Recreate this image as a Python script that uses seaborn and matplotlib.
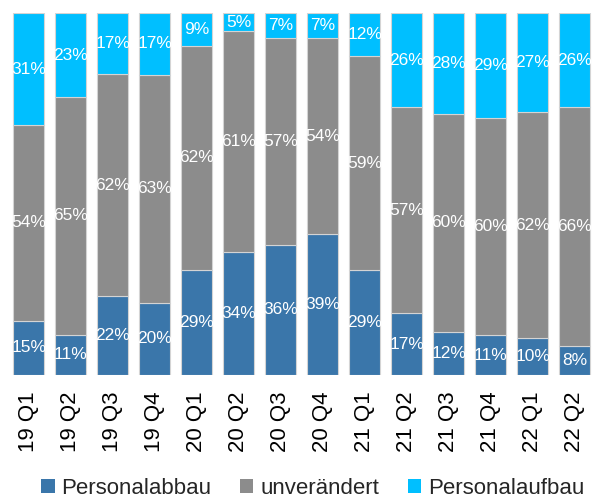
import matplotlib
matplotlib.use("Agg")
import matplotlib.pyplot as plt
import seaborn as sns
import pandas as pd
import numpy as np
from matplotlib.patches import Patch

quarters = ["19 Q1", "19 Q2", "19 Q3", "19 Q4", "20 Q1", "20 Q2", "20 Q3",
            "20 Q4", "21 Q1", "21 Q2", "21 Q3", "21 Q4", "22 Q1", "22 Q2"]
personalabbau = [15, 11, 22, 20, 29, 34, 36, 39, 29, 17, 12, 11, 10, 8]
unveraendert = [54, 65, 62, 63, 62, 61, 57, 54, 59, 57, 60, 60, 62, 66]
personalaufbau = [31, 23, 17, 17, 9, 5, 7, 7, 12, 26, 28, 29, 27, 26]

series_names = ["Personalabbau", "unverändert", "Personalaufbau"]
colors = ["#3A76AA", "#8C8C8C", "#00BFFF"]

sns.set_theme(style="white")
plt.rcParams["font.family"] = ["Liberation Sans", "DejaVu Sans"]

fig = plt.figure(figsize=(5.99, 5.0), dpi=100)
ax = fig.add_axes([0.013, 0.25, 0.9816, 0.724])

df = pd.DataFrame({"quarter": quarters,
                   "Personalabbau": personalabbau,
                   "unverändert": unveraendert,
                   "Personalaufbau": personalaufbau})
# 100% stacked: normalise each quarter to its total
totals = df[series_names].sum(axis=1).to_numpy(dtype=float)
for name in series_names:
    df[name + "_share"] = df[name] / totals * 100

bottom = np.zeros(len(quarters))
for name, col in zip(series_names, colors):
    vals = df[name + "_share"].to_numpy(dtype=float)
    sns.barplot(data=df, x="quarter", y=name + "_share", order=quarters,
                color=col, saturation=1, width=0.74, bottom=bottom, ax=ax,
                edgecolor="#D4D4D4", linewidth=0.8, errorbar=None)
    for i, v in enumerate(vals):
        ax.text(i, bottom[i] + v / 2, f"{int(df[name][i])}%", ha="center",
                va="center", color="white", fontsize=12.5,
                family=["Liberation Sans Narrow", "Liberation Sans", "DejaVu Sans"])
    bottom = bottom + vals

ax.set_ylim(0, 100)
ax.set_xlim(-0.5, len(quarters) - 0.5)
ax.set_xlabel("")
ax.set_ylabel("")
ax.set_yticks([])
for s in ax.spines.values():
    s.set_visible(False)
ax.tick_params(axis="x", length=0, pad=12, labelsize=16, labelcolor="black",
               rotation=90)

handles = [Patch(facecolor=c, edgecolor="none") for c in colors]
fig.legend(handles, series_names, loc="center", ncol=3, frameon=False,
           bbox_to_anchor=(0.522, 0.024), fontsize=16, handlelength=0.6,
           handleheight=0.6, handletextpad=0.3, columnspacing=1.3,
           borderpad=0)

fig.savefig("out.png", dpi=100)
